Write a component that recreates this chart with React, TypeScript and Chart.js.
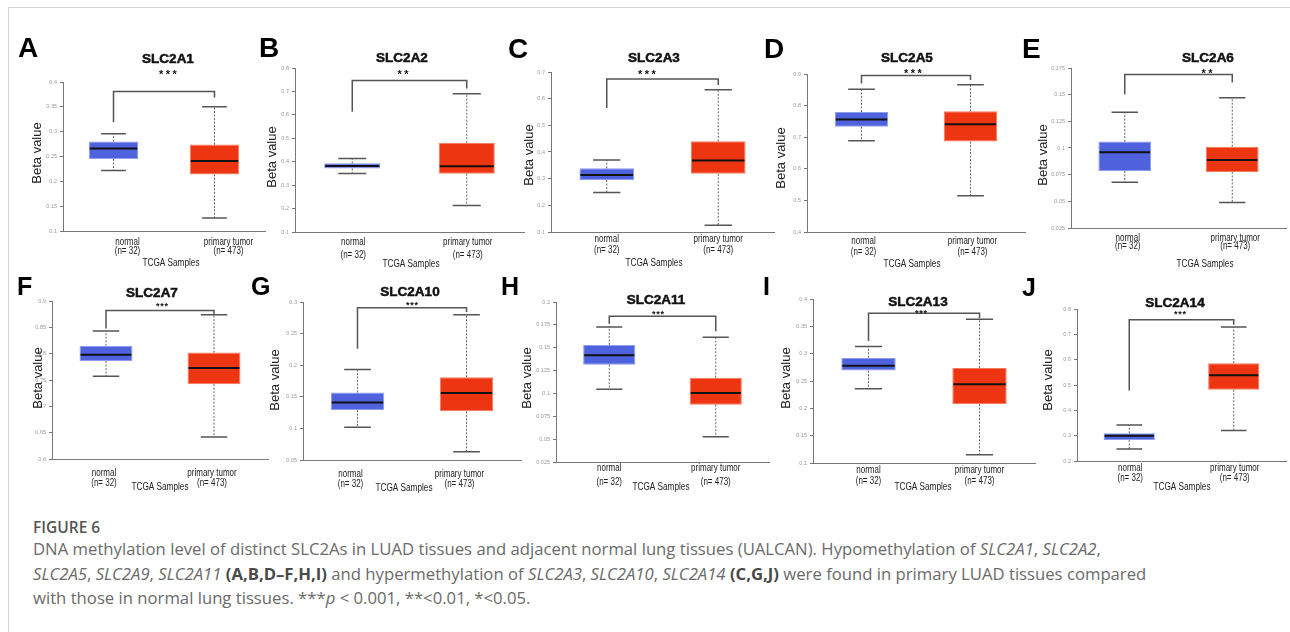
import React, { useEffect, useRef } from 'react';
import { Chart, registerables } from 'chart.js';

Chart.register(...registerables);

// ---------------- data ----------------
const panelLetters = ['A', 'B', 'C', 'D', 'E', 'F', 'G', 'H', 'I', 'J'];
const genes = ['SLC2A1', 'SLC2A2', 'SLC2A3', 'SLC2A5', 'SLC2A6', 'SLC2A7', 'SLC2A10', 'SLC2A11', 'SLC2A13', 'SLC2A14'];
const significance = ['***', '**', '***', '***', '**', '***', '***', '***', '***', '***'];
const groups = ['normal', 'primary tumor'];
const groupCounts = ['(n= 32)', '(n= 473)'];
const xAxisTitle = 'TCGA Samples';
const yAxisTitle = 'Beta value';

const yMin = [0.1, 0.1, 0.1, 0.4, 0.025, 0.6, 0.05, 0.025, 0.1, 0.2];
const yMax = [0.4, 0.8, 0.7, 0.9, 0.175, 0.9, 0.3, 0.2, 0.4, 0.8];
const yStep = [0.05, 0.1, 0.1, 0.1, 0.025, 0.05, 0.05, 0.025, 0.05, 0.1];

// normal tissue box statistics
const normalMin = [0.222, 0.35, 0.248, 0.689, 0.068, 0.757, 0.102, 0.1045, 0.236, 0.2475];
const normalQ1 = [0.245, 0.371, 0.295, 0.733, 0.0785, 0.786, 0.129, 0.1315, 0.269, 0.283];
const normalMedian = [0.266, 0.382, 0.314, 0.756, 0.096, 0.798, 0.141, 0.1417, 0.278, 0.3];
const normalQ3 = [0.28, 0.393, 0.339, 0.78, 0.106, 0.815, 0.157, 0.153, 0.2925, 0.3095];
const normalMax = [0.296, 0.414, 0.37, 0.852, 0.1336, 0.843, 0.193, 0.1727, 0.313, 0.342];

// primary tumor box statistics
const tumorMin = [0.126, 0.213, 0.125, 0.515, 0.049, 0.642, 0.063, 0.0527, 0.115, 0.32];
const tumorQ1 = [0.214, 0.349, 0.318, 0.686, 0.0776, 0.742, 0.127, 0.0877, 0.2075, 0.481];
const tumorMedian = [0.241, 0.381, 0.368, 0.741, 0.0888, 0.773, 0.156, 0.1005, 0.244, 0.538];
const tumorQ3 = [0.274, 0.481, 0.44, 0.782, 0.1012, 0.802, 0.181, 0.1172, 0.274, 0.586];
const tumorMax = [0.35, 0.69, 0.633, 0.866, 0.147, 0.874, 0.28, 0.1614, 0.363, 0.729];

// significance bracket: left end, top, right end
const bracketLeft = [0.319, 0.613, 0.565, 0.87, 0.1504, 0.848, 0.226, 0.1763, 0.323, 0.478];
const bracketTop = [0.381, 0.747, 0.674, 0.895, 0.169, 0.882, 0.291, 0.1843, 0.374, 0.758];
const bracketRight = [0.369, 0.713, 0.651, 0.881, 0.1613, 0.875, 0.284, 0.168, 0.365, 0.738];

// ---------------- layout (page pixel positions) ----------------
type Frame = {
  row: number; x0: number; x1: number; yTop: number; yBot: number;
  title: [number, number]; star: [number, number]; labDx: number;
  labY: [number, number]; tcga: [number, number]; beta: [number, number];
  letter: [number, number];
};
const frames: Frame[] = [
  { row: 0, x0: 63, x1: 265, yTop: 82, yBot: 231, title: [168, 59], star: [168, 72], labDx: 14, labY: [242, 251], tcga: [171, 263], beta: [37, 153], letter: [18, 58] },
  { row: 0, x0: 295, x1: 524, yTop: 68, yBot: 232, title: [402, 58], star: [403, 72], labDx: 1, labY: [242, 255], tcga: [411, 264], beta: [272, 157], letter: [259, 58] },
  { row: 0, x0: 551, x1: 774, yTop: 72, yBot: 232, title: [654, 58], star: [647, 72], labDx: 0, labY: [239, 250], tcga: [654, 263], beta: [529, 155], letter: [508, 59] },
  { row: 0, x0: 807, x1: 1025, yTop: 74, yBot: 232, title: [907, 58], star: [913, 71], labDx: 2, labY: [241, 252], tcga: [912, 264], beta: [781, 158], letter: [764, 59] },
  { row: 0, x0: 1071, x1: 1286, yTop: 68, yBot: 228, title: [1208, 58], star: [1207, 71], labDx: 3, labY: [238, 246], tcga: [1205, 264], beta: [1043, 155], letter: [1022, 59] },
  { row: 1, x0: 52, x1: 268, yTop: 301, yBot: 459, title: [152, 293], star: [162, 304], labDx: -2, labY: [473, 483], tcga: [160, 487], beta: [38, 378], letter: [17, 295] },
  { row: 1, x0: 303, x1: 521, yTop: 302, yBot: 460, title: [410, 292], star: [412, 303], labDx: -7, labY: [474, 484], tcga: [404, 488], beta: [275, 380], letter: [251, 295] },
  { row: 1, x0: 556, x1: 769, yTop: 302, yBot: 462, title: [656, 300], star: [658, 312], labDx: 0, labY: [468, 482], tcga: [661, 487], beta: [527, 378], letter: [501, 295] },
  { row: 1, x0: 813, x1: 1035, yTop: 299, yBot: 463, title: [918, 302], star: [921, 311], labDx: 0, labY: [470, 481], tcga: [923, 487], beta: [786, 378], letter: [763, 295] },
  { row: 1, x0: 1077, x1: 1286, yTop: 309, yBot: 461, title: [1175, 303], star: [1180, 312], labDx: 1, labY: [468, 478], tcga: [1182, 487], beta: [1048, 380], letter: [1022, 296] },
];
const rowTop = [30, 278];
const rowBottom = [276, 500];
const Y_AXIS_W = 50;

const FONT = "'Liberation Sans', Arial, Helvetica, sans-serif";
const BLUE = '#4d62dc';
const BLUE_EDGE = '#8d9bf0';
const RED = '#ee3512';
const RED_EDGE = '#f47c5e';

function BoxPanel({ p }: { p: number }) {
  const ref = useRef<HTMLCanvasElement>(null);
  const f = frames[p];
  const cl = f.x0 - Y_AXIS_W;
  const ct = rowTop[f.row];
  const cw = f.x1 - cl + 6;
  const ch = rowBottom[f.row] - ct;

  useEffect(() => {
    const lows = [normalMin[p], tumorMin[p]];
    const meds = [normalMedian[p], tumorMedian[p]];
    const highs = [normalMax[p], tumorMax[p]];
    const q1s = [normalQ1[p], tumorQ1[p]];
    const q3s = [normalQ3[p], tumorQ3[p]];

    const extras = {
      id: 'boxExtras' + p,
      afterDatasetsDraw(chart: any) {
        const ctx = chart.ctx as CanvasRenderingContext2D;
        const xs = chart.scales.x;
        const ys = chart.scales.y;
        const meta = chart.getDatasetMeta(0);
        const X = (px: number) => px - cl;
        const Y = (py: number) => py - ct;
        ctx.save();
        for (let i = 0; i < 2; i++) {
          const cx = xs.getPixelForValue(i);
          const bw = meta.data[i].width;
          const capW = bw * 0.5;
          const yLo = ys.getPixelForValue(lows[i]);
          const yHi = ys.getPixelForValue(highs[i]);
          const yQ1 = ys.getPixelForValue(q1s[i]);
          const yQ3 = ys.getPixelForValue(q3s[i]);
          const yMed = ys.getPixelForValue(meds[i]);
          // dashed whiskers
          ctx.strokeStyle = '#666';
          ctx.lineWidth = 1;
          ctx.setLineDash([2, 1.5]);
          ctx.beginPath();
          ctx.moveTo(cx, yQ3); ctx.lineTo(cx, yHi);
          ctx.moveTo(cx, yQ1); ctx.lineTo(cx, yLo);
          ctx.stroke();
          ctx.setLineDash([]);
          // caps
          ctx.strokeStyle = '#555';
          ctx.lineWidth = 1.5;
          ctx.beginPath();
          ctx.moveTo(cx - capW / 2, yHi); ctx.lineTo(cx + capW / 2, yHi);
          ctx.moveTo(cx - capW / 2, yLo); ctx.lineTo(cx + capW / 2, yLo);
          ctx.stroke();
          // median
          ctx.strokeStyle = '#111';
          ctx.lineWidth = 2;
          ctx.beginPath();
          ctx.moveTo(cx - bw / 2 + 1, yMed); ctx.lineTo(cx + bw / 2 - 1, yMed);
          ctx.stroke();
          // x labels (condensed)
          ctx.fillStyle = '#222';
          ctx.textAlign = 'center';
          ctx.textBaseline = 'middle';
          ctx.font = `10px ${FONT}`;
          const lines = [groups[i], groupCounts[i]];
          for (let k = 0; k < 2; k++) {
            ctx.save();
            ctx.translate(cx + f.labDx, Y(f.labY[k]));
            ctx.scale(0.8, 1);
            ctx.fillText(lines[k], 0, 0);
            ctx.restore();
          }
        }
        // bracket
        const xL = xs.getPixelForValue(0);
        const xR = xs.getPixelForValue(1);
        ctx.strokeStyle = '#555';
        ctx.lineWidth = 1.5;
        ctx.beginPath();
        ctx.moveTo(xL, ys.getPixelForValue(bracketLeft[p]));
        ctx.lineTo(xL, ys.getPixelForValue(bracketTop[p]));
        ctx.lineTo(xR, ys.getPixelForValue(bracketTop[p]));
        ctx.lineTo(xR, ys.getPixelForValue(bracketRight[p]));
        ctx.stroke();
        // title (heavy)
        ctx.fillStyle = '#111';
        ctx.strokeStyle = '#111';
        ctx.lineWidth = 0.5;
        ctx.textAlign = 'center';
        ctx.textBaseline = 'middle';
        ctx.font = `bold 13.5px ${FONT}`;
        ctx.fillText(genes[p], X(f.title[0]), Y(f.title[1]));
        ctx.strokeText(genes[p], X(f.title[0]), Y(f.title[1]));
        // stars
        const big = f.row === 0;
        const sz = big ? 11 : 9;
        ctx.font = `bold ${sz}px ${FONT}`;
        (ctx as any).letterSpacing = big ? '2.5px' : '0.8px';
        ctx.textBaseline = 'alphabetic';
        ctx.fillText(significance[p], X(f.star[0]) + (big ? 1.2 : 0.4), Y(f.star[1]) + sz * 0.56);
        (ctx as any).letterSpacing = '0px';
        // x axis title
        ctx.fillStyle = '#222';
        ctx.textBaseline = 'middle';
        ctx.font = `10px ${FONT}`;
        ctx.save();
        ctx.translate(X(f.tcga[0]), Y(f.tcga[1]));
        ctx.scale(0.82, 1);
        ctx.fillText(xAxisTitle, 0, 0);
        ctx.restore();
        // y axis title
        ctx.save();
        ctx.translate(X(f.beta[0]), Y(f.beta[1]));
        ctx.rotate(-Math.PI / 2);
        ctx.font = `13px ${FONT}`;
        ctx.fillStyle = '#222';
        ctx.fillText(yAxisTitle, 0, 0);
        ctx.restore();
        ctx.restore();
      },
    };

    const chart = new Chart(ref.current as HTMLCanvasElement, {
      type: 'bar',
      data: {
        labels: groups,
        datasets: [
          {
            data: [
              [normalQ1[p], normalQ3[p]],
              [tumorQ1[p], tumorQ3[p]],
            ] as any,
            backgroundColor: [BLUE, RED],
            borderColor: [BLUE_EDGE, RED_EDGE],
            borderWidth: 1,
            borderSkipped: false,
            barPercentage: 0.49,
            categoryPercentage: 1,
          },
        ],
      },
      options: {
        responsive: false,
        animation: false,
        events: [],
        layout: {
          padding: { left: 0, top: f.yTop - ct, right: cw - (f.x1 - cl), bottom: 0 },
        },
        plugins: {
          legend: { display: false },
          tooltip: { enabled: false },
          title: { display: false },
        },
        scales: {
          x: {
            type: 'category',
            offset: true,
            grid: { display: false },
            border: { display: true, color: '#777', width: 1 },
            ticks: { display: false },
            afterFit: (s: any) => {
              s.height = ch - (f.yBot - ct);
            },
          },
          y: {
            type: 'linear',
            min: yMin[p],
            max: yMax[p],
            ticks: {
              stepSize: yStep[p],
              color: '#999',
              padding: 3,
              font: { size: 5.5, family: FONT },
              callback: (v: any) => String(+Number(v).toFixed(3)),
            },
            grid: { drawOnChartArea: false, drawTicks: true, tickLength: 3, color: '#777' },
            border: { display: true, color: '#777', width: 1 },
            afterFit: (s: any) => {
              s.width = Y_AXIS_W;
            },
          },
        },
      } as any,
      plugins: [extras],
    });
    return () => chart.destroy();
  }, [p]);

  return (
    <canvas
      ref={ref}
      width={cw}
      height={ch}
      style={{ position: 'absolute', left: cl, top: ct, width: cw, height: ch }}
    />
  );
}

export default function App() {
  const letterSize = [28, 25];
  return (
    <div
      style={{
        position: 'absolute',
        left: 0,
        top: 0,
        width: 1290,
        height: 632,
        overflow: 'hidden',
        background: '#fff',
      }}
    >
      <div style={{ position: 'absolute', left: 8, top: 7, width: 1290, height: 1, background: '#d4d4d4' }} />
      <div style={{ position: 'absolute', left: 8, top: 7, width: 1, height: 640, background: '#d4d4d4' }} />
      {frames.map((_, i) => (
        <BoxPanel key={i} p={i} />
      ))}
      {frames.map((f, i) => {
        const fs = letterSize[f.row];
        return (
          <div
            key={'l' + i}
            style={{
              position: 'absolute',
              left: f.letter[0],
              top: f.letter[1] - 0.8465 * fs,
              fontFamily: FONT,
              fontWeight: 'bold',
              fontSize: fs,
              lineHeight: `${fs}px`,
              color: '#000',
              whiteSpace: 'nowrap',
            }}
          >
            {panelLetters[i]}
          </div>
        );
      })}
      <div
        style={{
          position: 'absolute',
          left: 33,
          top: 520,
          fontFamily: "'Open Sans', sans-serif",
          fontWeight: 600,
          fontSize: 15.5,
          lineHeight: '15px',
          color: '#555',
          whiteSpace: 'nowrap',
        }}
      >
        FIGURE 6
      </div>
      <div
        style={{
          position: 'absolute',
          left: 33,
          top: 537,
          fontFamily: "'Open Sans', sans-serif",
          fontSize: 16.7,
          lineHeight: '24.5px',
          color: '#6a6a6a',
          whiteSpace: 'nowrap',
        }}
      >
        <div>
          DNA methylation level of distinct SLC2As in LUAD tissues and adjacent normal lung tissues (UALCAN). Hypomethylation of{' '}
          <i>SLC2A1</i>, <i>SLC2A2</i>,
        </div>
        <div>
          <i>SLC2A5</i>, <i>SLC2A9</i>, <i>SLC2A11</i> <b style={{ color: '#4a4a4a' }}>(A,B,D–F,H,I)</b> and hypermethylation of{' '}
          <i>SLC2A3</i>, <i>SLC2A10</i>, <i>SLC2A14</i> <b style={{ color: '#4a4a4a' }}>(C,G,J)</b> were found in primary LUAD tissues
          compared
        </div>
        <div>
          with those in normal lung tissues. ***<i>p</i> &lt; 0.001, **&lt;0.01, *&lt;0.05.
        </div>
      </div>
    </div>
  );
}
